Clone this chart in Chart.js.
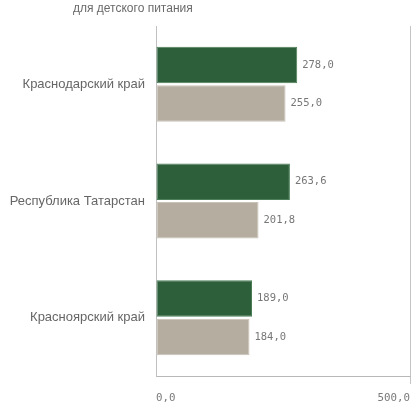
<!DOCTYPE html>
<html>
<head>
<meta charset="utf-8">
<script src="https://cdn.jsdelivr.net/npm/chart.js@4.4.1/dist/chart.umd.min.js"></script>
<style>
html,body{margin:0;padding:0;background:#fff;}
#wrap{position:relative;width:411px;height:406px;}
</style>
</head>
<body>
<div id="wrap"><canvas id="c" width="411" height="406"></canvas></div>
<script>
const subtitleText = 'для детского питания';
const categories = ['Краснодарский край', 'Республика Татарстан', 'Красноярский край'];
const seriesA = [278.0, 263.6, 189.0];
const seriesB = [255.0, 201.8, 184.0];
const xTicks = [0, 500];

const fmt = v => v.toFixed(1).replace('.', ',');

const valueLabels = {
  id: 'valueLabels',
  afterDatasetsDraw(chart) {
    const ctx = chart.ctx;
    ctx.save();
    ctx.font = '10.5px "DejaVu Sans Mono", monospace';
    ctx.fillStyle = '#777777';
    ctx.textAlign = 'left';
    ctx.textBaseline = 'middle';
    chart.data.datasets.forEach((ds, di) => {
      const meta = chart.getDatasetMeta(di);
      meta.data.forEach((bar, i) => {
        ctx.fillText(fmt(ds.data[i]), bar.x + 5, bar.y);
      });
    });
    ctx.restore();
  }
};

const topText = {
  id: 'topText',
  afterDraw(chart) {
    const ctx = chart.ctx;
    ctx.save();
    ctx.font = '12px "Liberation Sans", Arial, sans-serif';
    ctx.fillStyle = '#6a6a6a';
    ctx.textAlign = 'left';
    ctx.textBaseline = 'middle';
    ctx.fillText(subtitleText, 73, 9);
    ctx.restore();
  }
};

new Chart(document.getElementById('c'), {
  type: 'bar',
  data: {
    labels: categories,
    datasets: [
      { data: seriesA, backgroundColor: '#2e5f3b', borderColor: '#4b7f58', borderWidth: 1, borderSkipped: false,
        categoryPercentage: 0.66, barPercentage: 0.95 },
      { data: seriesB, backgroundColor: '#b5ada0', borderColor: '#c9c2b7', borderWidth: 1, borderSkipped: false,
        categoryPercentage: 0.66, barPercentage: 0.95 }
    ]
  },
  options: {
    indexAxis: 'y',
    responsive: false,
    animation: false,
    devicePixelRatio: 1,
    layout: { padding: { top: 26, right: 1, bottom: 0, left: 0 } },
    plugins: { legend: { display: false }, tooltip: { enabled: false } },
    scales: {
      x: {
        min: xTicks[0], max: xTicks[xTicks.length - 1],
        afterBuildTicks(scale) { scale.ticks = xTicks.map(v => ({ value: v })); },
        afterFit(scale) { scale.height = 30; scale.paddingLeft = 0; scale.paddingRight = 0; },
        border: { display: true, color: '#b8b8b8', width: 1 },
        grid: {
          color: ctx => ctx.index === 0 ? 'rgba(0,0,0,0)' : '#c4c4c4',
          drawTicks: true, tickLength: 8, tickColor: ctx => ctx.index === 0 ? 'rgba(0,0,0,0)' : '#c4c4c4'
        },
        ticks: {
          align: 'inner', padding: 8, maxRotation: 0,
          color: '#7a7a7a',
          font: { family: '"DejaVu Sans Mono", monospace', size: 10.8 },
          callback: v => fmt(v)
        }
      },
      y: {
        afterFit(scale) { scale.width = 156; },
        border: { display: true, color: '#c0c0c0', width: 1 },
        grid: { display: false, drawTicks: false },
        ticks: {
          padding: 11,
          color: '#666666',
          font: { family: '"Liberation Sans", Arial, sans-serif', size: 13 }
        }
      }
    }
  },
  plugins: [valueLabels, topText]
});
</script>
</body>
</html>
